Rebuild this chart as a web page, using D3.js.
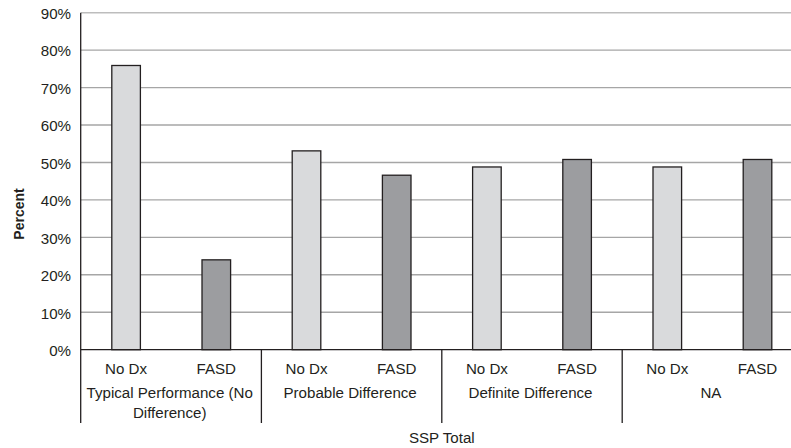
<!DOCTYPE html>
<html>
<head>
<meta charset="utf-8">
<script src="https://cdn.jsdelivr.net/npm/d3@7"></script>
<style>
  html, body { margin: 0; padding: 0; background: #fff; }
  svg { display: block; }
  text { font-family: "Liberation Sans", Arial, sans-serif; fill: #231f20; }
</style>
</head>
<body>
<svg id="chart" width="791" height="448"></svg>
<script>
// ---- data ----
const groupLabels = [
  ["Typical Performance (No", "Difference)"],
  ["Probable Difference"],
  ["Definite Difference"],
  ["NA"]
];
const seriesNames = ["No Dx", "FASD"];
const noDxValues = [75.9, 53.1, 48.8, 48.8];
const fasdValues = [24.0, 46.6, 50.8, 50.8];
const yTicks = [0, 10, 20, 30, 40, 50, 60, 70, 80, 90];
const yTitle = "Percent";
const xTitle = "SSP Total";

(function () {
  // ---- build rows ----
  const rows = [];
  groupLabels.forEach((g, gi) => {
    rows.push({ key: gi + "-0", series: 0, name: seriesNames[0], value: noDxValues[gi], group: gi });
    rows.push({ key: gi + "-1", series: 1, name: seriesNames[1], value: fasdValues[gi], group: gi });
  });

  const svg = d3.select("#chart");
  const W = 791;
  const pL = 81, pR = 802.6, pT = 12.7, pB = 349.7;
  const sx = 1.08;
  const fs = 14;

  const x = d3.scaleBand().domain(rows.map(d => d.key)).range([pL, pR])
    .paddingInner(0.683).paddingOuter(0.683 / 2);
  const y = d3.scaleLinear().domain([0, 90]).range([pB, pT]);
  const step = x.step();

  // gridlines
  svg.append("g").selectAll("line").data(yTicks.filter(t => t > 0)).join("line")
    .attr("x1", pL).attr("x2", W)
    .attr("y1", d => y(d)).attr("y2", d => y(d))
    .attr("stroke", d => d === 90 ? "#bdbdbd" : "#a6a6a6")
    .attr("stroke-width", 1.4);

  // bars
  const colors = ["#d9dadc", "#9c9da0"];
  svg.append("g").selectAll("rect").data(rows).join("rect")
    .attr("x", d => x(d.key))
    .attr("width", x.bandwidth())
    .attr("y", d => y(d.value))
    .attr("height", d => y(0) - y(d.value))
    .attr("fill", d => colors[d.series])
    .attr("stroke", "#231f20")
    .attr("stroke-width", 1.3);

  // axis lines
  svg.append("line").attr("x1", pL - 0.3).attr("x2", pL - 0.3)
    .attr("y1", pT).attr("y2", 423)
    .attr("stroke", "#231f20").attr("stroke-width", 1.3);
  svg.append("line").attr("x1", pL).attr("x2", W)
    .attr("y1", y(0)).attr("y2", y(0))
    .attr("stroke", "#231f20").attr("stroke-width", 1.3);

  // group separators
  const groupCenters = groupLabels.map((g, gi) => pL + step * (gi * 2 + 1));
  svg.append("g").selectAll("line").data(groupLabels.slice(1)).join("line")
    .attr("x1", (d, i) => pL + step * (i + 1) * 2)
    .attr("x2", (d, i) => pL + step * (i + 1) * 2)
    .attr("y1", y(0)).attr("y2", 423)
    .attr("stroke", "#231f20").attr("stroke-width", 1.3);

  function stretchedText(sel, xx, yy, anchor, txt, size, weight) {
    return sel.append("text")
      .attr("transform", `translate(${xx},${yy}) scale(${sx},1)`)
      .attr("text-anchor", anchor)
      .attr("dominant-baseline", "central")
      .style("font-size", (size || fs) + "px")
      .style("font-weight", weight || "normal")
      .text(txt);
  }

  // y tick labels
  yTicks.forEach(t => stretchedText(svg, 71, y(t) + 1.5, "end", t + "%"));

  // category labels
  rows.forEach(d => stretchedText(svg, x(d.key) + x.bandwidth() / 2, 369, "middle", d.name));

  // group labels
  groupLabels.forEach((lines, gi) => {
    lines.forEach((ln, li) => stretchedText(svg, groupCenters[gi] - 1.5, 393.5 + li * 19.5, "middle", ln));
  });

  // x title
  stretchedText(svg, (pL + pR) / 2, 438, "middle", xTitle);

  // y title
  svg.append("text")
    .attr("transform", `translate(19,214) rotate(-90)`)
    .attr("text-anchor", "middle")
    .attr("dominant-baseline", "central")
    .style("font-size", "14px")
    .style("font-weight", "bold")
    .text(yTitle);
})();
</script>
</body>
</html>
